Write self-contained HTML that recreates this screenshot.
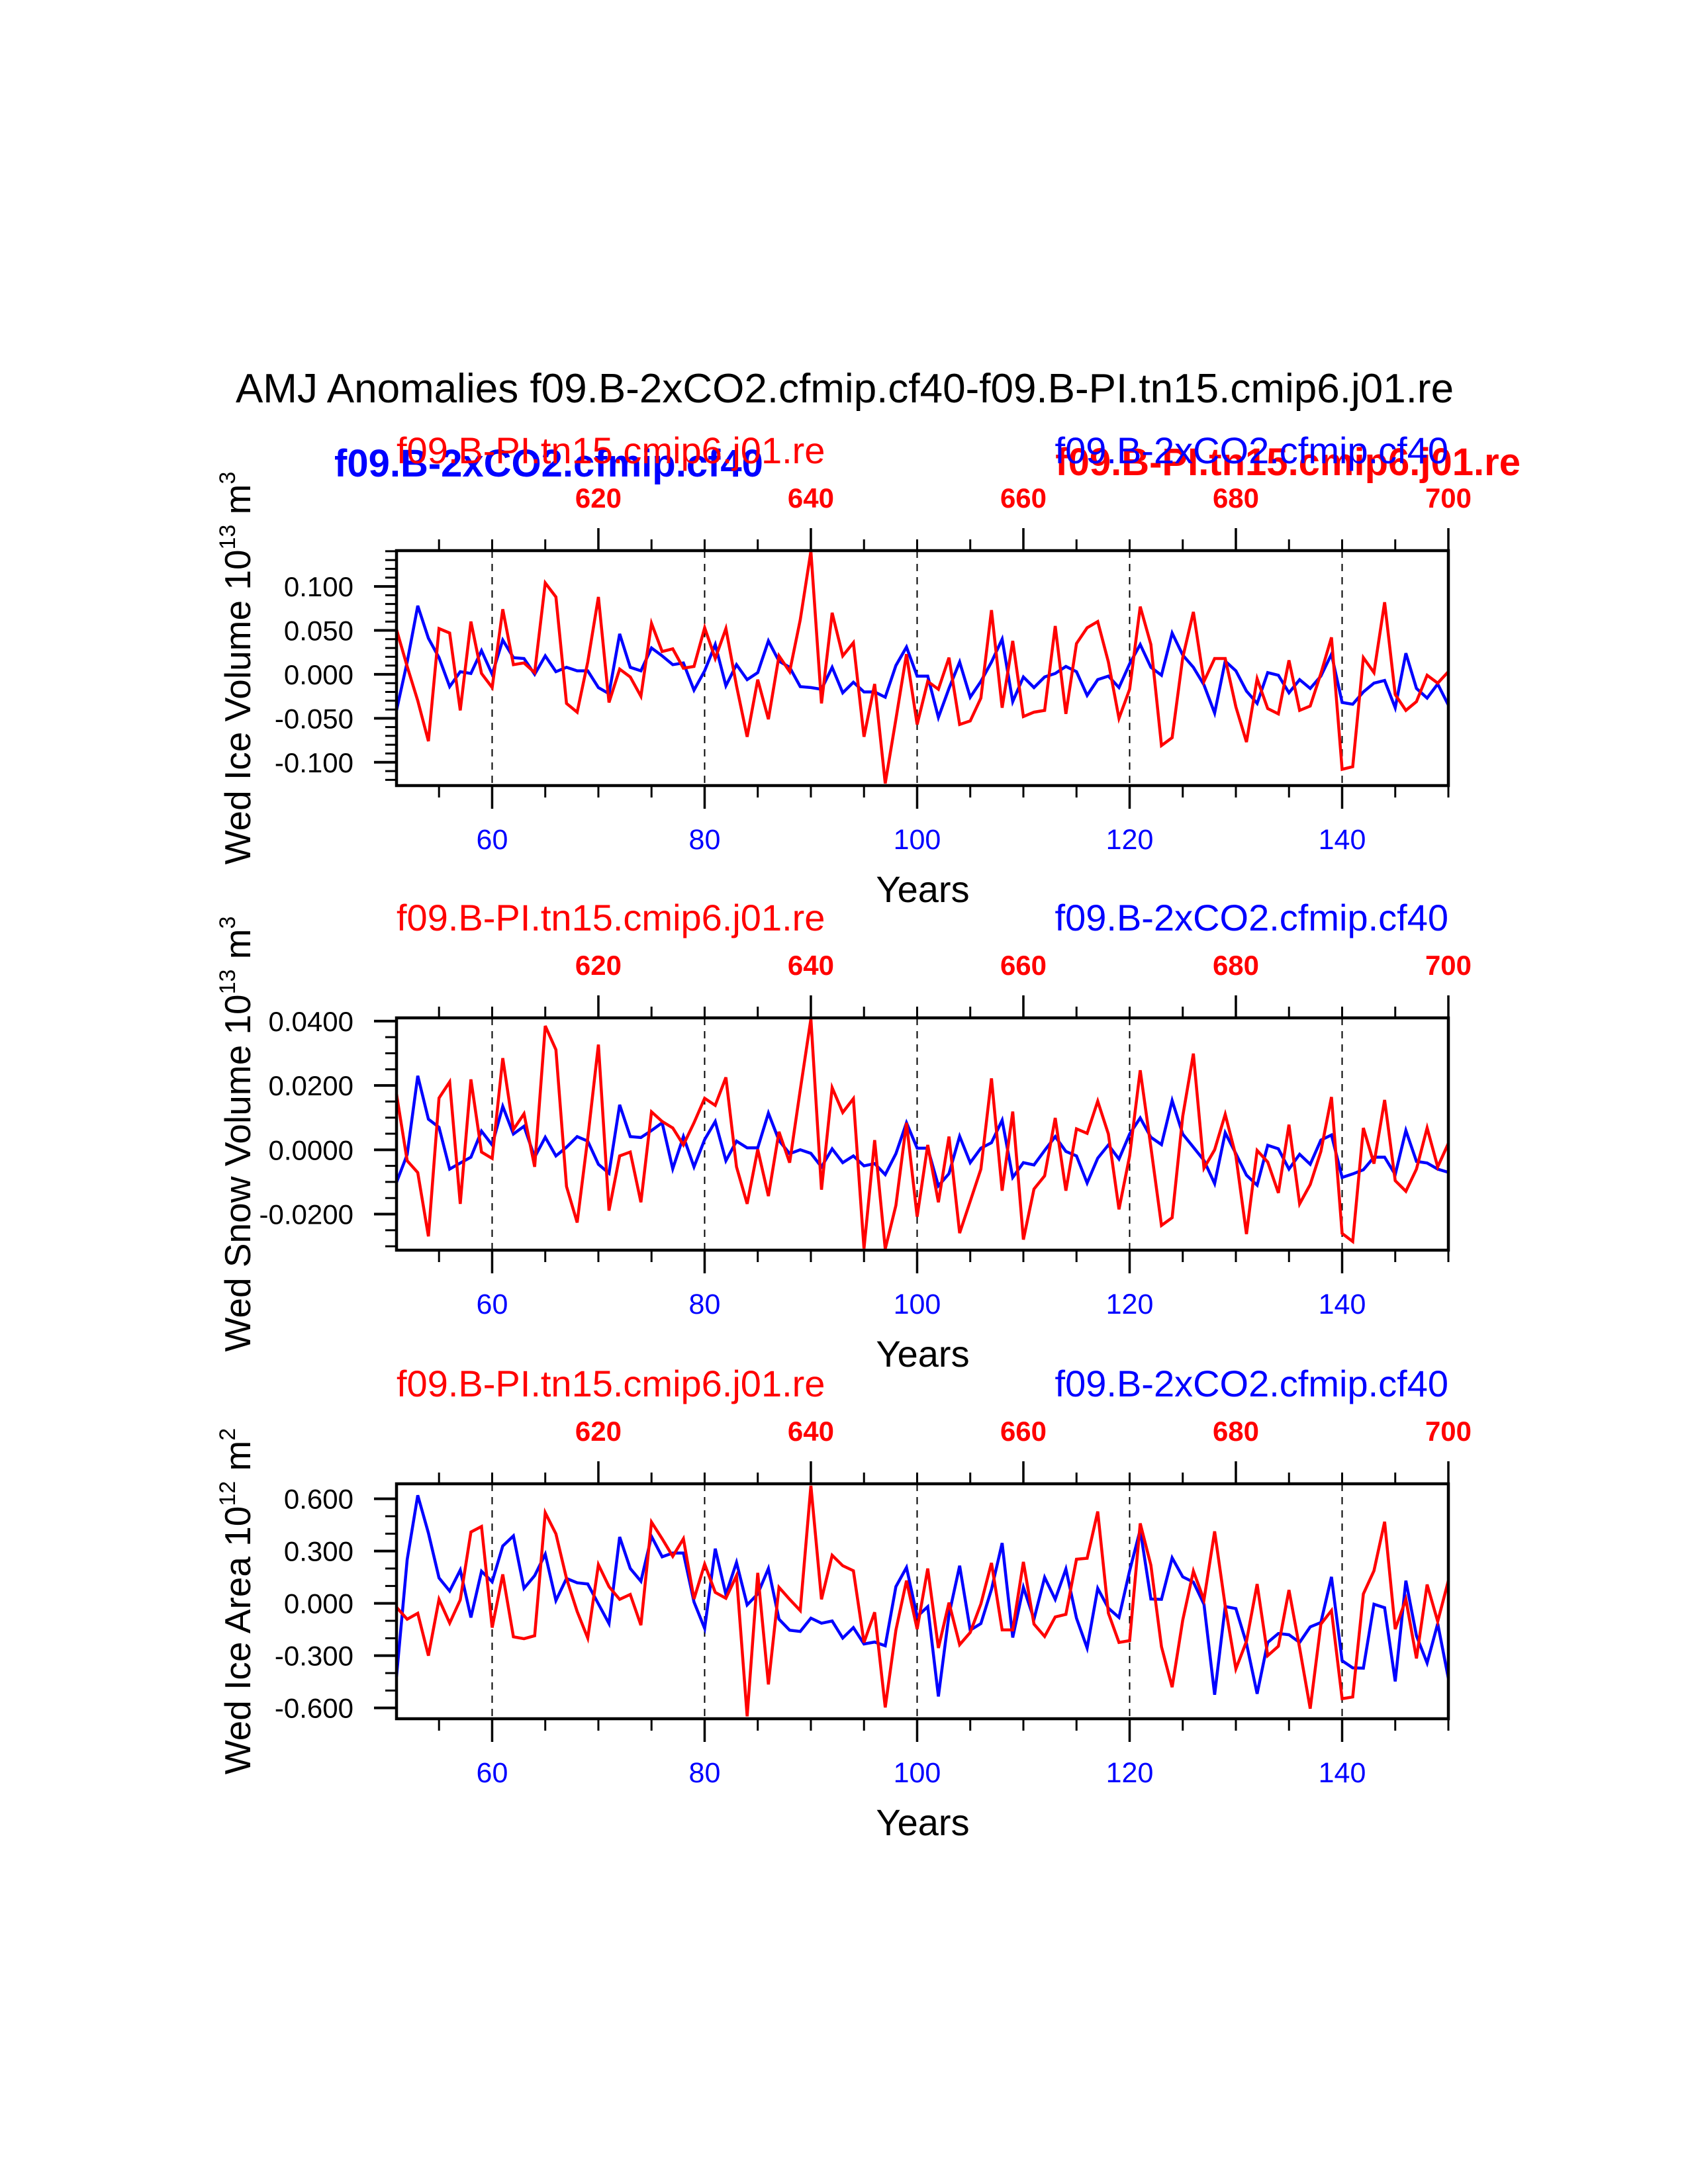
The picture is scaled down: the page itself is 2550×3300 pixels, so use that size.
<!DOCTYPE html>
<html><head><meta charset="utf-8">
<style>
html,body{margin:0;padding:0;background:#fff;}
svg{display:block;font-family:"Liberation Sans",Arial,sans-serif;}
</style></head>
<body>
<svg id="chart" width="2550" height="3300" viewBox="0 0 2550 3300" xmlns="http://www.w3.org/2000/svg">
<rect x="0" y="0" width="2550" height="3300" fill="#fff"/>
<text x="1276" y="608" font-size="62" text-anchor="middle" fill="#000">AMJ Anomalies f09.B-2xCO2.cfmip.cf40-f09.B-PI.tn15.cmip6.j01.re</text>
</svg>
<script>
const firstYear = 51;
const bottomTicks = [60, 80, 100, 120, 140];
const bottomTickLabels = ["60", "80", "100", "120", "140"];
const topTickLabels = ["620", "640", "660", "680", "700"];
const topTickYears = [70, 90, 110, 130, 150];

const iceVolBlue = [-0.041,0.014,0.078,0.041,0.019,-0.014,0.003,0.001,0.027,0.000,
0.039,0.019,0.018,0.000,0.021,0.003,0.008,0.004,0.004,-0.015,
-0.022,0.046,0.008,0.004,0.030,0.021,0.011,0.013,-0.018,0.004,
0.034,-0.013,0.011,-0.006,0.002,0.038,0.015,0.008,-0.014,-0.015,
-0.017,0.008,-0.021,-0.009,-0.020,-0.020,-0.026,0.010,0.031,-0.002,
-0.002,-0.049,-0.016,0.014,-0.026,-0.008,0.014,0.040,-0.031,-0.003,
-0.015,-0.003,0.001,0.009,0.003,-0.024,-0.006,-0.002,-0.015,0.012,
0.034,0.008,-0.001,0.047,0.022,0.008,-0.012,-0.044,0.015,0.004,
-0.019,-0.033,0.002,-0.001,-0.021,-0.006,-0.016,-0.002,0.023,-0.032,
-0.034,-0.020,-0.010,-0.007,-0.038,0.024,-0.016,-0.027,-0.011,-0.035];
const iceVolRed = [0.051,0.009,-0.030,-0.076,0.052,0.047,-0.041,0.060,0.001,-0.015,
0.074,0.011,0.013,0.002,0.104,0.088,-0.033,-0.043,0.014,0.088,
-0.032,0.006,-0.003,-0.025,0.058,0.026,0.029,0.007,0.009,0.053,
0.018,0.052,-0.013,-0.071,-0.006,-0.051,0.021,0.003,0.062,0.140,
-0.033,0.070,0.021,0.036,-0.071,-0.011,-0.124,-0.051,0.023,-0.057,
-0.008,-0.017,0.019,-0.057,-0.053,-0.027,0.073,-0.038,0.038,-0.048,
-0.043,-0.041,0.055,-0.045,0.035,0.053,0.060,0.014,-0.050,-0.017,
0.077,0.034,-0.081,-0.072,0.019,0.071,-0.008,0.018,0.018,-0.037,
-0.077,-0.005,-0.039,-0.045,0.016,-0.041,-0.036,0.001,0.042,-0.108,
-0.105,0.019,0.002,0.082,-0.023,-0.041,-0.031,-0.001,-0.010,0.003];
const snowBlue = [-0.0101,-0.0015,0.0230,0.0095,0.0070,-0.0060,-0.0041,-0.0023,0.0058,0.0015,
0.0135,0.0049,0.0073,-0.0023,0.0039,-0.0019,0.0008,0.0041,0.0027,-0.0045,
-0.0073,0.0140,0.0041,0.0038,0.0060,0.0084,-0.0059,0.0041,-0.0053,0.0032,
0.0088,-0.0034,0.0027,0.0006,0.0006,0.0114,0.0029,-0.0012,0.0000,-0.0011,
-0.0053,0.0003,-0.0040,-0.0019,-0.0050,-0.0043,-0.0077,-0.0012,0.0084,0.0005,
0.0005,-0.0112,-0.0074,0.0042,-0.0040,0.0005,0.0022,0.0092,-0.0086,-0.0040,
-0.0047,-0.0002,0.0041,-0.0005,-0.0019,-0.0103,-0.0026,0.0015,-0.0029,0.0049,
0.0099,0.0039,0.0016,0.0153,0.0049,0.0008,-0.0033,-0.0105,0.0053,-0.0012,
-0.0079,-0.0110,0.0014,0.0003,-0.0060,-0.0014,-0.0045,0.0030,0.0046,-0.0086,
-0.0075,-0.0062,-0.0023,-0.0023,-0.0077,0.0060,-0.0036,-0.0041,-0.0060,-0.0070];
const snowRed = [0.0173,-0.0034,-0.0071,-0.0269,0.0161,0.0211,-0.0168,0.0219,-0.0007,-0.0027,
0.0285,0.0063,0.0112,-0.0053,0.0385,0.0311,-0.0114,-0.0226,0.0036,0.0327,
-0.0189,-0.0019,-0.0007,-0.0163,0.0118,0.0088,0.0068,0.0015,0.0084,0.0160,
0.0138,0.0225,-0.0053,-0.0168,0.0001,-0.0144,0.0056,-0.0040,0.0186,0.0407,
-0.0124,0.0193,0.0116,0.0159,-0.0307,0.0030,-0.0308,-0.0173,0.0084,-0.0208,
0.0015,-0.0163,0.0041,-0.0259,-0.0160,-0.0060,0.0222,-0.0127,0.0119,-0.0279,
-0.0122,-0.0081,0.0099,-0.0127,0.0065,0.0051,0.0151,0.0049,-0.0185,-0.0019,
0.0247,0.0008,-0.0235,-0.0211,0.0104,0.0299,-0.0057,0.0000,0.0110,-0.0019,
-0.0262,-0.0002,-0.0038,-0.0134,0.0078,-0.0168,-0.0108,-0.0005,0.0164,-0.0260,
-0.0285,0.0068,-0.0043,0.0155,-0.0096,-0.0129,-0.0060,0.0068,-0.0053,0.0020];
const areaBlue = [-0.420,0.251,0.620,0.403,0.146,0.071,0.191,-0.081,0.184,0.124,
0.329,0.387,0.086,0.159,0.282,0.016,0.143,0.118,0.111,-0.003,
-0.116,0.381,0.200,0.127,0.384,0.267,0.289,0.289,0.008,-0.144,
0.314,0.051,0.235,-0.009,0.054,0.200,-0.091,-0.154,-0.161,-0.085,
-0.114,-0.101,-0.199,-0.139,-0.233,-0.222,-0.243,0.096,0.206,-0.075,
-0.019,-0.534,-0.066,0.216,-0.154,-0.116,0.080,0.346,-0.196,0.092,
-0.091,0.149,0.023,0.197,-0.085,-0.256,0.086,-0.028,-0.081,0.187,
0.422,0.025,0.023,0.261,0.152,0.122,-0.005,-0.524,-0.018,-0.030,
-0.230,-0.519,-0.224,-0.173,-0.180,-0.224,-0.135,-0.110,0.152,-0.329,
-0.370,-0.372,-0.005,-0.025,-0.448,0.130,-0.186,-0.342,-0.116,-0.430];
const areaRed = [-0.022,-0.091,-0.057,-0.300,0.023,-0.113,0.020,0.409,0.441,-0.139,
0.166,-0.192,-0.203,-0.186,0.520,0.399,0.143,-0.047,-0.199,0.222,
0.096,0.023,0.051,-0.125,0.466,0.371,0.270,0.371,0.025,0.225,
0.063,0.029,0.159,-0.648,0.175,-0.465,0.092,0.023,-0.041,0.675,
0.023,0.276,0.216,0.187,-0.224,-0.051,-0.597,-0.154,0.130,-0.148,
0.200,-0.256,0.004,-0.237,-0.167,-0.003,0.232,-0.152,-0.152,0.238,
-0.119,-0.190,-0.078,-0.063,0.253,0.259,0.527,-0.056,-0.224,-0.214,
0.459,0.219,-0.249,-0.481,-0.097,0.185,0.020,0.413,-0.015,-0.376,
-0.218,0.111,-0.300,-0.246,0.077,-0.256,-0.604,-0.119,-0.041,-0.547,
-0.537,0.054,0.187,0.468,-0.148,0.023,-0.316,0.108,-0.104,0.130];

const iceVolTicks = [-0.1, -0.05, 0, 0.05, 0.1];
const iceVolTickLabels = ["-0.100", "-0.050", "0.000", "0.050", "0.100"];
const snowTicks = [-0.02, 0, 0.02, 0.04];
const snowTickLabels = ["-0.0200", "0.0000", "0.0200", "0.0400"];
const areaTicks = [-0.6, -0.3, 0, 0.3, 0.6];
const areaTickLabels = ["-0.600", "-0.300", "0.000", "0.300", "0.600"];

const NS = "http://www.w3.org/2000/svg";
const svg = document.getElementById("chart");
const X0 = 599, X1 = 2188, YR0 = 51, YR1 = 150;
function xOf(yr){ return X0 + (yr - YR0) * (X1 - X0) / (YR1 - YR0); }
function mk(tag, attrs, parent){
  const e = document.createElementNS(NS, tag);
  for (const k in attrs) e.setAttribute(k, attrs[k]);
  (parent || svg).appendChild(e);
  return e;
}

const panels = [
 {key:"ice-volume", top:832, h:355, ymin:-0.1265, ymax:0.1407, blue:iceVolBlue, red:iceVolRed, ticks:iceVolTicks, tickLabels:iceVolTickLabels, minor:0.01, title:["Wed Ice Volume 10","13"," m","3"], bold:true},
 {key:"snow-volume", top:1538, h:351, ymin:-0.0312, ymax:0.0410, blue:snowBlue, red:snowRed, ticks:snowTicks, tickLabels:snowTickLabels, minor:0.005, title:["Wed Snow Volume 10","13"," m","3"], bold:false},
 {key:"ice-area", top:2242, h:355, ymin:-0.662, ymax:0.686, blue:areaBlue, red:areaRed, ticks:areaTicks, tickLabels:areaTickLabels, minor:0.1, title:["Wed Ice Area 10","12"," m","2"], bold:false}
];

panels.forEach(function(p){
  const T = p.top, B = p.top + p.h;
  const g = mk("g", {});
  
  
  function yOf(v){ return B - (v - p.ymin) / (p.ymax - p.ymin) * p.h; }

  bottomTicks.forEach(function(yr){
    const l = mk("line", {x1:xOf(yr), x2:xOf(yr), y1:T, y2:B, stroke:"#000", "stroke-width":2, "stroke-dasharray":"11 9"}, g);
    
    
  });

  [["blue", p.blue, "#0000ff"], ["red", p.red, "#ff0000"]].forEach(function(s){
    let d = "";
    s[1].forEach(function(v, i){
      d += (i ? "L" : "M") + xOf(firstYear + i).toFixed(1) + "," + yOf(v).toFixed(1);
    });
    const path = mk("path", {d:d, fill:"none", stroke:s[2], "stroke-width":4.5, "stroke-linejoin":"miter"}, g);
    
    
  });

  const r = mk("rect", {x:X0, y:T, width:X1 - X0, height:p.h, fill:"none", stroke:"#000", "stroke-width":4.5}, g);
  
  

  for (let yr = 55; yr <= 150; yr += 5){
    const major = (yr % 20 === 0);
    const len = major ? 35 : 18;
    mk("line", {x1:xOf(yr), x2:xOf(yr), y1:B, y2:B + len, stroke:"#000", "stroke-width":major ? 3.5 : 3}, g);
    const topMajor = ((yr - 10) % 20 === 0);
    const tlen = topMajor ? 34 : 17;
    mk("line", {x1:xOf(yr), x2:xOf(yr), y1:T, y2:T - tlen, stroke:"#000", "stroke-width":topMajor ? 3.5 : 3}, g);
  }
  bottomTicks.forEach(function(yr, i){
    const t = mk("text", {x:xOf(yr), y:B + 96, "font-size":43, fill:"#0000ff", "text-anchor":"middle"}, g);
    t.textContent = bottomTickLabels[i];
    
    
  });
  topTickYears.forEach(function(yr, i){
    const t = mk("text", {x:xOf(yr), y:T - 65, "font-size":42, "font-weight":"bold", fill:"#ff0000", "text-anchor":"middle"}, g);
    t.textContent = topTickLabels[i];
    
    
  });

  const start = Math.ceil((p.ymin) / p.minor - 1e-6);
  const end = Math.floor((p.ymax) / p.minor + 1e-6);
  for (let k = start; k <= end; k++){
    const v = k * p.minor;
    mk("line", {x1:X0, x2:X0 - 17, y1:yOf(v), y2:yOf(v), stroke:"#000", "stroke-width":3}, g);
  }
  p.ticks.forEach(function(v, i){
    mk("line", {x1:X0, x2:X0 - 34, y1:yOf(v), y2:yOf(v), stroke:"#000", "stroke-width":4}, g);
    const t = mk("text", {x:534, y:yOf(v) + 15, "font-size":42, fill:"#000", "text-anchor":"end"}, g);
    t.textContent = p.tickLabels[i];
    
    
  });

  const yt = mk("text", {x:0, y:0, "font-size":55, fill:"#000", "text-anchor":"middle", transform:"translate(378," + (T + p.h / 2) + ") rotate(-90)"}, g);
  
  
  const parts = p.title;
  const s1 = mk("tspan", {}, yt); s1.textContent = parts[0];
  const s2 = mk("tspan", {"font-size":34, dy:-23}, yt); s2.textContent = parts[1];
  const s3 = mk("tspan", {dy:23}, yt); s3.textContent = parts[2];
  const s4 = mk("tspan", {"font-size":34, dy:-23}, yt); s4.textContent = parts[3];

  const xt = mk("text", {x:1394, y:B + 176, "font-size":56, fill:"#000", "text-anchor":"middle"}, g);
  xt.textContent = "Years";
  
  

  const hr = mk("text", {x:599, y:T - 132, "font-size":56, fill:"#ff0000"}, g);
  hr.textContent = "f09.B-PI.tn15.cmip6.j01.re";
  
  
  const hb = mk("text", {x:2188, y:T - 132, "font-size":56, fill:"#0000ff", "text-anchor":"end"}, g);
  hb.textContent = "f09.B-2xCO2.cfmip.cf40";
  
  
  if (p.bold){
    const bb = mk("text", {x:505, y:T - 112, "font-size":58, "font-weight":"bold", fill:"#0000ff"}, g);
    bb.textContent = "f09.B-2xCO2.cfmip.cf40";
    
    
    const rb = mk("text", {x:2297, y:T - 114, "font-size":58, "font-weight":"bold", fill:"#ff0000", "text-anchor":"end"}, g);
    rb.textContent = "f09.B-PI.tn15.cmip6.j01.re";
    
    
    g.appendChild(hr); g.appendChild(hb);
  }
});
</script>
</body></html>
